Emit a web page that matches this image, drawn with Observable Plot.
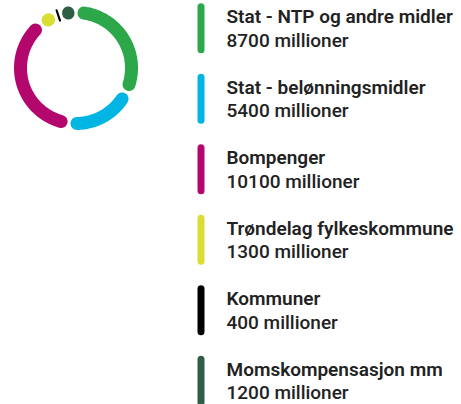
<!DOCTYPE html>
<html>
<head>
<meta charset="utf-8">
<script src="https://cdn.jsdelivr.net/npm/d3@7"></script>
<script src="https://cdn.jsdelivr.net/npm/@observablehq/plot@0.6"></script>
<style>
  body { margin: 0; background: #fff; }
  #chart { position: relative; width: 461px; height: 404px; overflow: hidden; background: #fff; }
  #donut { position: absolute; left: 0; top: 0; width: 151px; height: 135px; }
  #legend { position: absolute; left: 190px; top: 0; width: 271px; height: 404px; }
  svg { overflow: visible; }
</style>
</head>
<body>
<div id="chart"><div id="donut"></div><div id="legend"></div></div>
<script>
// ---- data ----
const categories = [
  "Stat - NTP og andre midler",
  "Stat - belønningsmidler",
  "Bompenger",
  "Trøndelag fylkeskommune",
  "Kommuner",
  "Momskompensasjon mm"
];
const values = [8700, 5400, 10100, 1300, 400, 1200];
const unit = "millioner";
const colors = ["#2ca84a", "#00b4e3", "#b4076d", "#dade33", "#000000", "#2f5e46"];

// ---- donut ----
const W = 151, H = 135;      // donut svg size
const cx = 75.5, cy = 67.5;  // centre in px
const R = 55.5;              // centreline radius in px
const ring = 13;             // ring thickness
const halfGap = 1.5;         // half the gap between segments (px)

const total = d3.sum(values);
let cum = 0;
const segs = values.map((v, i) => {
  const a0 = cum / total * 2 * Math.PI;
  cum += v;
  const a1 = cum / total * 2 * Math.PI;
  const L = (a1 - a0) * R - 2 * halfGap;
  let pts, w;
  if (L >= ring) {
    w = ring;
    const s = a0 + (halfGap + ring / 2) / R;
    const e = a1 - (halfGap + ring / 2) / R;
    const n = Math.max(2, Math.ceil((e - s) * 60));
    pts = d3.range(n + 1).map(k => {
      const a = s + (e - s) * k / n;
      return {x: Math.sin(a), y: Math.cos(a)};
    });
  } else {
    w = Math.max(L, 1.5);
    const am = (a0 + a1) / 2;
    const h = (ring - w) / 2 / R;
    pts = [1 - h, 1 + h].map(r => ({x: r * Math.sin(am), y: r * Math.cos(am)}));
  }
  return {pts, w, color: colors[i]};
});

const donut = Plot.plot({
  width: W, height: H,
  margin: 0,
  x: {domain: [-cx / R, (W - cx) / R], axis: null},
  y: {domain: [-(H - cy) / R, cy / R], axis: null},
  marks: segs.map(s => Plot.line(s.pts, {
    x: "x", y: "y", stroke: s.color, strokeWidth: s.w, strokeLinecap: "round"
  }))
});
document.getElementById("donut").append(donut);

// ---- legend ----
const legendData = categories.map((name, i) => ({
  name, color: colors[i], value: `${values[i]} ${unit}`
}));

const legend = Plot.plot({
  width: 271, height: 404,
  marginLeft: 10.5, marginRight: 0, marginTop: 0, marginBottom: 0,
  x: {domain: [0, 1], axis: null},
  y: {type: "band", domain: categories, range: [3.3, 405.8], paddingInner: 0.2908, paddingOuter: 0, round: false, axis: null},
  color: {type: "identity"},
  marks: [
    Plot.ruleX(legendData, {x: 0, y1: "name", y2: "name", stroke: "color", strokeWidth: 7, strokeLinecap: "round", insetTop: 3.5, insetBottom: 3.5}),
    Plot.text(legendData, {x: 0, y: "name", text: "name", textAnchor: "start", lineAnchor: "bottom", dx: 25.5, dy: -5.5,
      fontFamily: "Roboto", fontSize: 19, fontWeight: 600, fill: "#222"}),
    Plot.text(legendData, {x: 0, y: "name", text: "value", textAnchor: "start", lineAnchor: "bottom", dx: 25.5, dy: 18,
      fontFamily: "Roboto", fontSize: 19, fontWeight: 500, fill: "#222"})
  ]
});
document.getElementById("legend").append(legend);
</script>
</body>
</html>
